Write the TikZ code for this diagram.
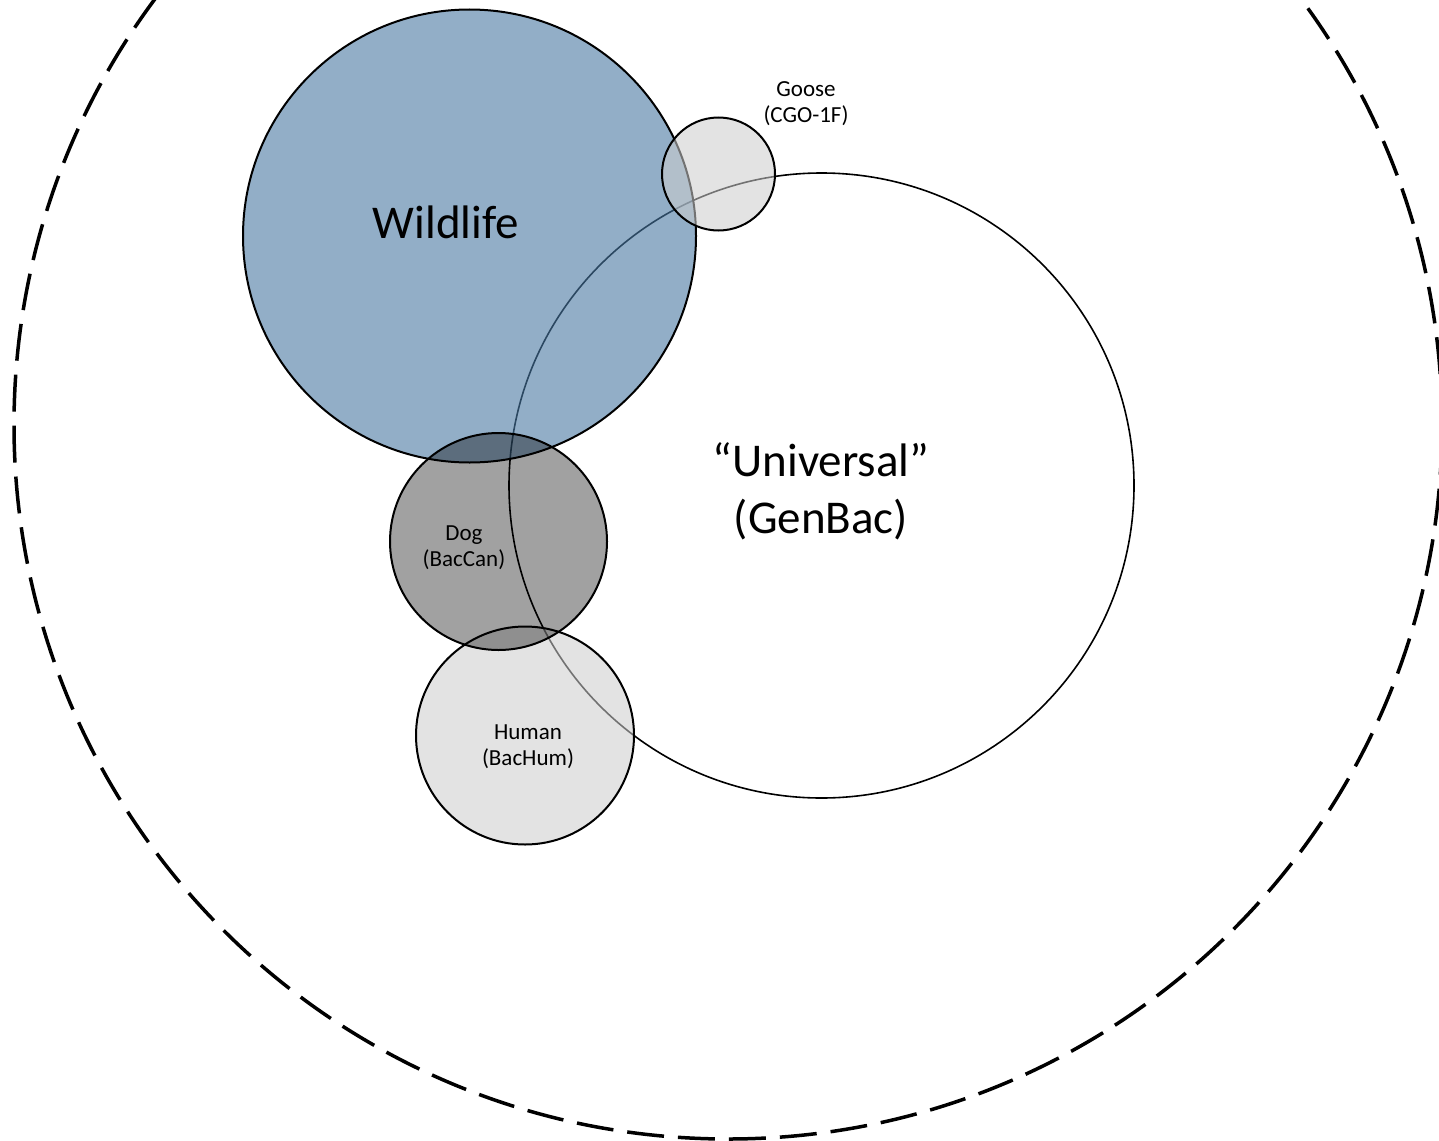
\documentclass[tikz,border=0pt]{standalone}
\usepackage{fontspec}
\setmainfont{Carlito}
\definecolor{wildblue}{RGB}{73,120,162}
\definecolor{lightfill}{RGB}{205,205,205}
\begin{document}
\begin{tikzpicture}[x=1pt,y=-1pt,
  ring/.style={circle,draw=black,line width=2pt,inner sep=0pt,outer sep=0pt},
  outerring/.style={circle,draw=black,line width=3.5pt,dash pattern=on 37pt off 14pt,inner sep=0pt},
  lightring/.style={ring,fill=lightfill,fill opacity=0.56},
  dogring/.style={ring,fill=black,fill opacity=0.37},
  wildring/.style={ring,fill=wildblue,fill opacity=0.6},
  small/.style={font=\fontsize{23}{26}\selectfont,align=center,text opacity=1},
  big/.style={font=\fontsize{47}{57}\selectfont,align=center,text opacity=1}]
\useasboundingbox (0,0) rectangle (1439,1140);
\clip (0,0) rectangle (1439,1140);
\node[outerring,minimum size=1428pt] (outer) at (728,425) {};
\node[ring,line width=1.6pt,minimum size=625pt] (univ) at (821.5,485.5) {};
\node[lightring,minimum size=218pt] (human) at (525,735.5) {};
\node[wildring,minimum size=453pt] (wild) at (469.5,236) {};
\node[dogring,minimum size=217pt] (dog) at (498.5,541.5) {};
\node[lightring,minimum size=113pt] (goose) at (718.5,174) {};
\node[big] (wildlab) at (446,222) {Wildlife};
\node[big] (univlab) at (821,491) {“Universal”\\(GenBac)};
\node[small] (doglab) at (464,548) {Dog\\(BacCan)};
\node[small] (humlab) at (528,746.5) {Human\\(BacHum)};
\node[small] (gooselab) at (806,103.5) {Goose\\(CGO-1F)};
\end{tikzpicture}
\end{document}
